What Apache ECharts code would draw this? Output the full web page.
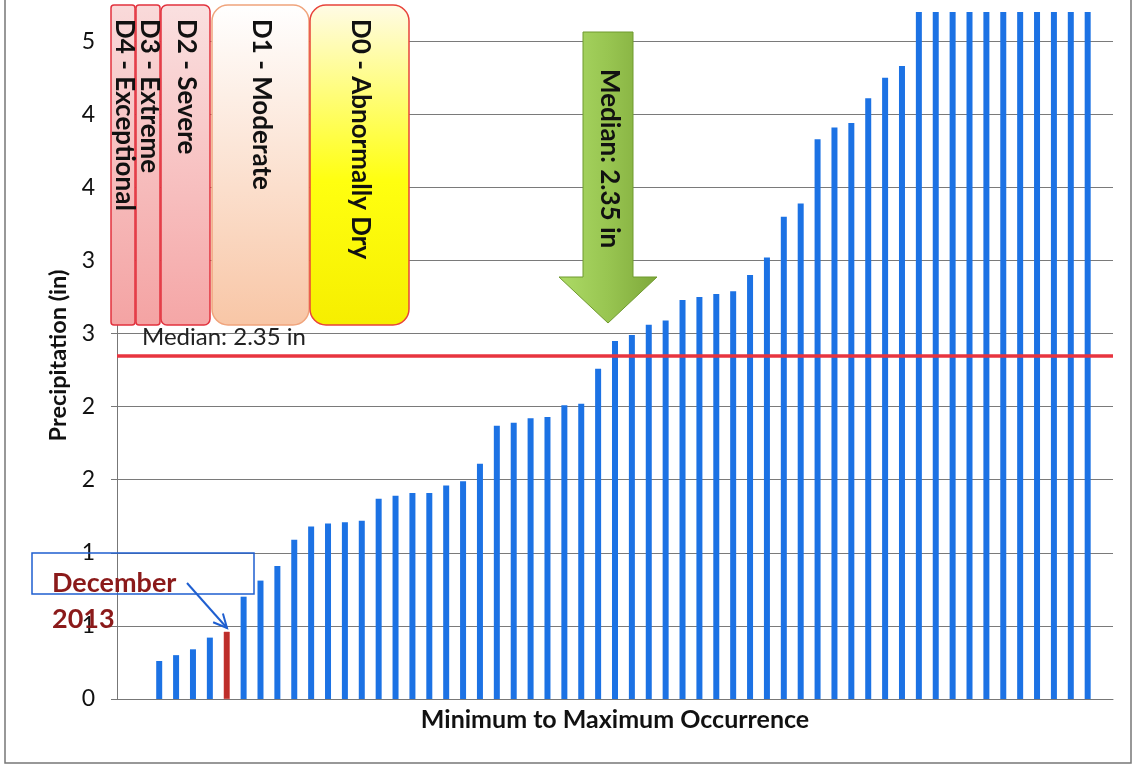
<!DOCTYPE html>
<html>
<head>
<meta charset="utf-8">
<script src="https://cdn.jsdelivr.net/npm/echarts@6/dist/echarts.min.js"></script>
<style>
  html, body { margin: 0; padding: 0; background: #ffffff; }
  #chart { width: 1134px; height: 766px; }
</style>
</head>
<body>
<div id="chart"></div>
<script>
// December precipitation totals, sorted from driest to wettest year (inches).
// The wettest years run past the top of the axis and are shown at its ceiling.
const precipValues = [
  0.26, 0.30, 0.34, 0.42, 0.46, 0.70, 0.81, 0.91, 1.09, 1.18,
  1.20, 1.21, 1.22, 1.37, 1.39, 1.41, 1.41, 1.46, 1.49, 1.61,
  1.87, 1.89, 1.92, 1.93, 2.01, 2.02, 2.26, 2.45, 2.49, 2.56,
  2.59, 2.73, 2.75, 2.77, 2.79, 2.90, 3.02, 3.30, 3.39, 3.83,
  3.91, 3.94, 4.11, 4.25, 4.33, 4.70, 4.70, 4.70, 4.70, 4.70,
  4.70, 4.70, 4.70, 4.70, 4.70, 4.70
];
// Rank of each year, driest first; empty slots pad both ends of the axis
const rankLabels = [
  '', '',
  '1', '2', '3', '4', '5', '6', '7', '8', '9', '10',
  '11', '12', '13', '14', '15', '16', '17', '18', '19', '20',
  '21', '22', '23', '24', '25', '26', '27', '28', '29', '30',
  '31', '32', '33', '34', '35', '36', '37', '38', '39', '40',
  '41', '42', '43', '44', '45', '46', '47', '48', '49', '50',
  '51', '52', '53', '54', '55', '56',
  ''
];
const leadingBlankSlots = 2;
const highlightIndex = 4;                 // December 2013
const highlightLabel = 'December\n2013';
const medianPrecip = 2.35;
const medianLabel = 'Median: 2.35 in';
const yTickValues = [0, 0.5, 1, 1.5, 2, 2.5, 3, 3.5, 4, 4.5];
const yTickLabels = ['0', '1', '1', '2', '2', '3', '3', '4', '4', '5'];
const droughtClasses = ['D4 - Exceptional', 'D3 - Extreme', 'D2 - Severe', 'D1 - Moderate', 'D0 - Abnormally Dry'];
const yAxisTitle = 'Precipitation (in)';
const xAxisTitle = 'Minimum to Maximum Occurrence';

const FONT = 'Lato, "Open Sans", sans-serif';
const BAR_BLUE = '#1c72e4';
const BAR_RED = '#bd2e2a';

// Place each sorted value in its slot along the category axis
const seriesData = rankLabels.map(() => null);
precipValues.forEach((v, i) => {
  const item = { value: v };
  if (i === highlightIndex) item.itemStyle = { color: BAR_RED, borderColor: '#d23a36', borderWidth: 0.5 };
  seriesData[leadingBlankSlots + i] = item;
});

function tickLabel(value) {
  const k = yTickValues.findIndex(t => Math.abs(t - value) < 1e-6);
  return k >= 0 ? yTickLabels[k] : '';
}

// Drought category panels (pixel layout of the annotation boxes)
const panelLayout = [
  { x: 111, w: 24, r: 3, top: '#f9dada', bottom: '#f4a3a3', stroke: '#e2323e' },
  { x: 136, w: 24, r: 3, top: '#f9dada', bottom: '#f4a3a3', stroke: '#e2323e' },
  { x: 161, w: 49, r: 6, top: '#fae0e0', bottom: '#f5a6a6', stroke: '#e2323e' },
  { x: 212, w: 97, r: 16, top: '#ffffff', bottom: '#f8c6a6', stroke: '#f0a47c' },
  { x: 310, w: 99, r: 16, top: '#fffbe6', mid: '#ffff10', bottom: '#f6ee00', stroke: '#e8433a' }
];
const panelTop = 5, panelBottom = 325;

const graphics = [];
panelLayout.forEach((p, i) => {
  const stops = p.mid
    ? [{ offset: 0, color: p.top }, { offset: 0.55, color: p.mid }, { offset: 1, color: p.bottom }]
    : [{ offset: 0, color: p.top }, { offset: 1, color: p.bottom }];
  graphics.push({
    type: 'rect', z: 100,
    shape: { x: p.x, y: panelTop, width: p.w, height: panelBottom - panelTop, r: p.r },
    style: {
      fill: { type: 'linear', x: 0, y: 0, x2: 0, y2: 1, colorStops: stops },
      stroke: p.stroke, lineWidth: 1.5
    }
  });
  graphics.push({
    type: 'text', z: 101,
    x: p.x + p.w / 2 + 1, y: 19, rotation: -Math.PI / 2,
    style: {
      text: droughtClasses[i], fill: '#111',
      font: 'bold 26px ' + FONT,
      textAlign: 'left', textVerticalAlign: 'middle',
      align: 'left', verticalAlign: 'middle'
    }
  });
});

// Green arrow pointing down to the median line
graphics.push({
  type: 'polygon', z: 100,
  shape: { points: [[583, 32], [633, 32], [633, 277], [657, 277], [608, 323], [559, 277], [583, 277]] },
  style: {
    fill: { type: 'linear', x: 0, y: 0, x2: 1, y2: 0, colorStops: [
      { offset: 0, color: '#addb66' }, { offset: 0.5, color: '#98c551' }, { offset: 1, color: '#7ea83a' }
    ] },
    stroke: '#6f9a2e', lineWidth: 1
  }
});
graphics.push({
  type: 'text', z: 101,
  x: 609, y: 69, rotation: -Math.PI / 2,
  style: {
    text: medianLabel, fill: '#111', font: 'bold 26px ' + FONT,
    textAlign: 'left', textVerticalAlign: 'middle', align: 'left', verticalAlign: 'middle'
  }
});

// Callout for the December 2013 bar
graphics.push({
  type: 'rect', z: 90,
  shape: { x: 32, y: 553, width: 222, height: 41 },
  style: { fill: 'rgba(255,255,255,0)', stroke: '#1f5fd0', lineWidth: 1.5 }
});
graphics.push({
  type: 'text', z: 101, x: 52, y: 565,
  style: {
    text: highlightLabel, fill: '#8b1a1a', font: 'bold 27px ' + FONT, lineHeight: 36,
    textAlign: 'left', textVerticalAlign: 'top', align: 'left', verticalAlign: 'top'
  }
});
const ax1 = 187, ay1 = 583, ax2 = 227, ay2 = 628;
const ang = Math.atan2(ay2 - ay1, ax2 - ax1), headLen = 15, headSpread = 0.45;
graphics.push({
  type: 'line', z: 101,
  shape: { x1: ax1, y1: ay1, x2: ax2, y2: ay2 },
  style: { stroke: '#1f5fd0', lineWidth: 2 }
});
graphics.push({
  type: 'polyline', z: 101,
  shape: { points: [
    [ax2 - headLen * Math.cos(ang - headSpread), ay2 - headLen * Math.sin(ang - headSpread)],
    [ax2, ay2],
    [ax2 - headLen * Math.cos(ang + headSpread), ay2 - headLen * Math.sin(ang + headSpread)]
  ] },
  style: { stroke: '#1f5fd0', lineWidth: 2, fill: null }
});

// Outer chart frame
graphics.push({
  type: 'rect', z: 0,
  shape: { x: 5, y: -5, width: 1126, height: 768 },
  style: { fill: null, stroke: '#777', lineWidth: 1.5 }
});

const chart = echarts.init(document.getElementById('chart'), null, { renderer: 'canvas' });
chart.setOption({
  animation: false,
  backgroundColor: '#ffffff',
  grid: { left: 117, right: 21, top: 12, bottom: 67, containLabel: false },
  xAxis: {
    type: 'category',
    data: rankLabels,
    axisLine: { show: true, lineStyle: { color: '#777', width: 1 } },
    axisTick: { show: false },
    axisLabel: { show: false },
    splitLine: { show: false },
    name: xAxisTitle,
    nameLocation: 'middle',
    nameGap: 8,
    nameTextStyle: { fontFamily: FONT, fontWeight: 'bold', fontSize: 25, color: '#111' }
  },
  yAxis: {
    type: 'value',
    min: 0, max: 4.7, interval: 0.5,
    axisLine: { show: true, lineStyle: { color: '#777', width: 1 } },
    axisTick: { show: true, inside: false, length: 6, lineStyle: { color: '#777' } },
    axisLabel: {
      formatter: tickLabel, margin: 22,
      fontFamily: FONT, fontSize: 23, color: '#111'
    },
    splitLine: { show: true, showMaxLine: false, showMinLine: false, lineStyle: { color: '#7a7a7a', width: 1 } },
    name: yAxisTitle,
    nameLocation: 'middle',
    nameRotate: 90,
    nameGap: 47,
    nameTextStyle: { fontFamily: FONT, fontWeight: 'bold', fontSize: 23.5, color: '#111' }
  },
  series: [{
    type: 'bar',
    data: seriesData,
    barWidth: 6,
    itemStyle: { color: BAR_BLUE },
    markLine: {
      silent: true,
      symbol: 'none',
      data: [{ yAxis: medianPrecip }],
      lineStyle: { color: '#e8343f', width: 3.5, type: 'solid' },
      label: {
        show: true, formatter: medianLabel, position: 'insideStartTop',
        distance: [25, 6],
        fontFamily: FONT, fontSize: 24, color: '#222'
      }
    }
  }],
  graphic: graphics
});
</script>
</body>
</html>
